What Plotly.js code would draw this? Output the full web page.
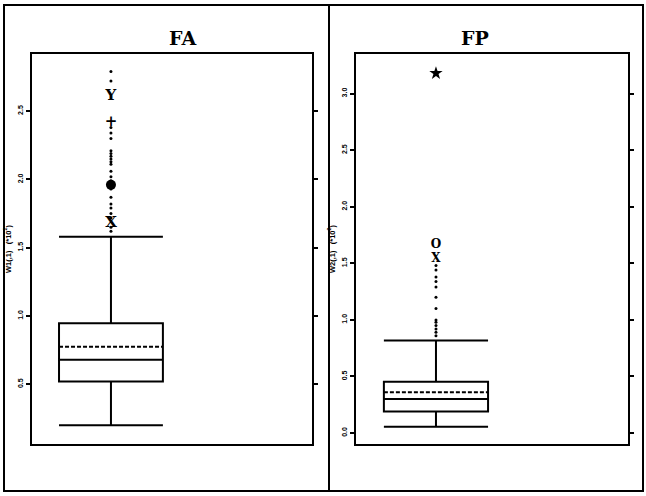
<!DOCTYPE html>
<html>
<head>
<meta charset="utf-8">
<script src="https://cdn.plot.ly/plotly-3.0.1.min.js"></script>
<style>html,body{margin:0;padding:0;background:#fff;}#chart{width:646px;height:496px;}</style>
</head>
<body>
<div id="chart"></div>
<script>
// Panel titles
const panelTitles = ["FA", "FP"];
const axisTitles = ["W1(,1)&nbsp;&nbsp;&nbsp;(*10<sup>2</sup>)", "W2(,1)&nbsp;&nbsp;&nbsp;(*10<sup>2</sup>)"];

// Box statistics (values in units of 10^2)
const faStats = {lower: 0.20, q1: 0.52, median: 0.68, mean: 0.775, q3: 0.947, upper: 1.58};
const fpStats = {lower: 0.056, q1: 0.19, median: 0.30, mean: 0.36, q3: 0.454, upper: 0.817};

// Outside values drawn as small dots
const faDots = [2.79, 2.72, 2.38, 2.34, 2.30, 2.21, 2.19, 2.17, 2.15, 2.13, 2.11, 2.06, 2.02, 1.99, 1.93, 1.87, 1.82, 1.79, 1.75, 1.72, 1.65, 1.62];
const fpDots = [0.86, 0.89, 0.92, 0.95, 0.98, 1.00, 1.10, 1.20, 1.29, 1.34, 1.38, 1.44, 1.48];

// Labelled outside values
const faLetterVals = [2.61, 2.42, 1.68];
const faLetters = ["Y", "+", "X"];
const faCircleVals = [1.96];
const fpLetterVals = [1.665, 1.535];
const fpLetters = ["O", "X"];
const fpStarVals = [3.18];

function zeros(a){ return a.map(() => 0); }

const SERIF = '"DejaVu Serif", "Liberation Serif", serif';
const SANS = '"Liberation Sans", Arial, "DejaVu Sans", sans-serif';

const data = [
  {type:'box', x:[0], q1:[faStats.q1], median:[faStats.median], q3:[faStats.q3],
   lowerfence:[faStats.lower], upperfence:[faStats.upper], mean:[faStats.mean],
   boxmean:true, boxpoints:false, width:0.371, whiskerwidth:1,
   line:{color:'#000', width:2}, fillcolor:'rgba(0,0,0,0)', xaxis:'x', yaxis:'y', hoverinfo:'skip'},
  {type:'scatter', mode:'markers', x:zeros(faDots), y:faDots, marker:{color:'#000', size:3}, xaxis:'x', yaxis:'y', hoverinfo:'skip'},
  {type:'scatter', mode:'markers', x:zeros(faCircleVals), y:faCircleVals, marker:{color:'#000', size:10, symbol:'circle'}, xaxis:'x', yaxis:'y', hoverinfo:'skip'},
  {type:'scatter', mode:'text', x:zeros(faLetterVals), y:faLetterVals, text:faLetters, textposition:'middle center',
   textfont:{family:SERIF, size:15, color:'#000', weight:'bold'}, xaxis:'x', yaxis:'y', hoverinfo:'skip'},

  {type:'box', x:[0], q1:[fpStats.q1], median:[fpStats.median], q3:[fpStats.q3],
   lowerfence:[fpStats.lower], upperfence:[fpStats.upper], mean:[fpStats.mean],
   boxmean:true, boxpoints:false, width:0.383, whiskerwidth:1,
   line:{color:'#000', width:2}, fillcolor:'rgba(0,0,0,0)', xaxis:'x2', yaxis:'y2', hoverinfo:'skip'},
  {type:'scatter', mode:'markers', x:zeros(fpDots), y:fpDots, marker:{color:'#000', size:3}, xaxis:'x2', yaxis:'y2', hoverinfo:'skip'},
  {type:'scatter', mode:'markers', x:zeros(fpStarVals), y:fpStarVals, marker:{color:'#000', size:10, symbol:'star'}, xaxis:'x2', yaxis:'y2', hoverinfo:'skip'},
  {type:'scatter', mode:'text', x:zeros(fpLetterVals), y:fpLetterVals, text:fpLetters, textposition:'middle center',
   textfont:{family:SERIF, size:12, color:'#000', weight:'bold'}, xaxis:'x2', yaxis:'y2', hoverinfo:'skip'}
];

const W = 646, H = 496;
const px = v => v / W, py = v => 1 - v / H;

const xBase = {showline:true, mirror:true, linecolor:'#000', linewidth:2, ticks:'', showticklabels:false,
  showgrid:false, zeroline:false, fixedrange:true};
const yBase = {showline:true, mirror:'ticks', linecolor:'#000', linewidth:2, ticks:'outside', ticklen:4,
  tickwidth:2, tickcolor:'#000', showgrid:false, zeroline:false, dtick:0.5, tickformat:'.1f', tickangle:-90,
  tickfont:{family:SANS, size:7, color:'#000', weight:'bold'}, fixedrange:true};

const layout = {
  width:W, height:H, showlegend:false, paper_bgcolor:'#fff', plot_bgcolor:'#fff',
  margin:{l:0, r:0, t:0, b:0},
  xaxis: Object.assign({}, xBase, {domain:[px(32), px(312)], range:[-0.282, 0.718], anchor:'y'}),
  yaxis: Object.assign({}, yBase, {domain:[py(444), py(54)], range:[0.063, 2.918], anchor:'x',
    title:{text:axisTitles[0], standoff:5, font:{family:SANS, size:7.5, color:'#000', weight:'bold'}}}),
  xaxis2: Object.assign({}, xBase, {domain:[px(356), px(628)], range:[-0.294, 0.706], anchor:'y2'}),
  yaxis2: Object.assign({}, yBase, {domain:[py(444), py(54)], range:[-0.097, 3.35], anchor:'x2',
    title:{text:axisTitles[1], standoff:5, font:{family:SANS, size:7.5, color:'#000', weight:'bold'}}}),
  annotations:[
    {text:panelTitles[0], xref:'paper', yref:'paper', x:px(167), y:py(25), showarrow:false,
     font:{family:SERIF, size:19, color:'#000', weight:'bold'}},
    {text:panelTitles[1], xref:'paper', yref:'paper', x:px(491), y:py(25), showarrow:false,
     font:{family:SERIF, size:19, color:'#000', weight:'bold'}}
  ],
  shapes:[
    {type:'rect', xref:'paper', yref:'paper', x0:px(4), x1:px(643), y0:py(491), y1:py(5), line:{color:'#000', width:2}},
    {type:'line', xref:'paper', yref:'paper', x0:px(329), x1:px(329), y0:py(491), y1:py(5), line:{color:'#000', width:2}}
  ]
};

Plotly.newPlot('chart', data, layout, {displayModeBar:false, staticPlot:true});
</script>
</body>
</html>
